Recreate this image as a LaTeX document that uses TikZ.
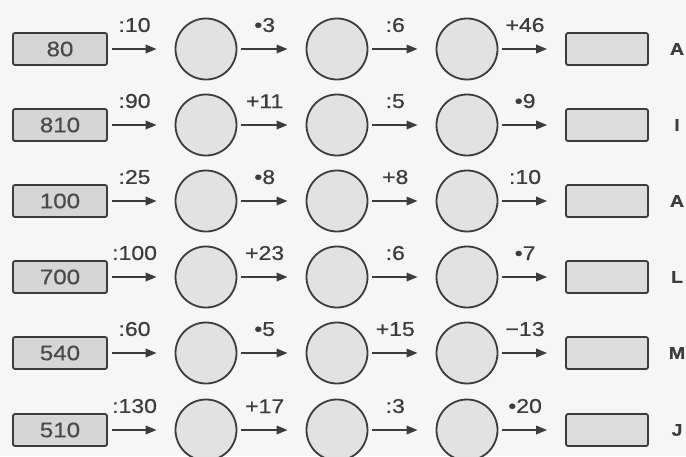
\documentclass[tikz,border=0pt]{standalone}
\usepackage{fontspec}
\setmainfont[FakeStretch=1.15,FakeBold=0.6]{Liberation Sans}
\usetikzlibrary{arrows.meta}
\definecolor{ink}{HTML}{3C3C3C}
\definecolor{numgray}{HTML}{4A4A4A}
\definecolor{boxgray}{HTML}{D6D6D6}
\definecolor{endgray}{HTML}{DCDCDC}
\definecolor{circgray}{HTML}{E2E2E2}
\definecolor{bgcol}{HTML}{F6F6F6}
\begin{document}
\begin{tikzpicture}[x=1pt,y=-1pt,
  startbox/.style={draw=ink, line width=1.8pt, fill=boxgray, rounded corners=2pt,
    minimum width=94pt, minimum height=32pt, inner sep=0pt,
    font=\fontsize{21}{21}\selectfont, text=numgray},
  endbox/.style={draw=ink, line width=1.8pt, fill=endgray, rounded corners=2pt,
    minimum width=82pt, minimum height=32pt, inner sep=0pt},
  ring/.style={circle, draw=ink, line width=1.8pt, fill=circgray,
    minimum size=61pt, inner sep=0pt},
  op/.style={-{Triangle[length=11pt,width=8.5pt]}, draw=ink, line width=1.8pt,
    shorten <=4pt, shorten >=18pt},
  oplabel/.style={font=\fontsize{20}{20}\selectfont, text=ink, anchor=south,
    inner sep=0pt, yshift=16pt, pos=0.4},
  letter/.style={font=\bfseries\fontsize{17}{17}\selectfont, text=ink, inner sep=0pt}]
\fill[bgcol] (0,0) rectangle (686,456);
\useasboundingbox (0,0) rectangle (686,456);
\foreach \r/\y/\n/\a/\b/\c/\d/\L in {
  1/49/80/:10/•3/:6/+46/A,
  2/125/810/:90/+11/:5/•9/I,
  3/201/100/:25/•8/+8/:10/A,
  4/277/700/:100/+23/:6/•7/L,
  5/353/540/:60/•5/+15/−13/M,
  6/430/510/:130/+17/:3/•20/J}{
  \node[startbox] (s\r) at (60,\y) {\n};
  \node[ring] (ca\r) at (206,\y) {};
  \node[ring] (cb\r) at (337,\y) {};
  \node[ring] (cc\r) at (467,\y) {};
  \node[endbox] (e\r) at (607,\y) {};
  \node[letter] (l\r) at (677,\y) {\L};
  \draw[op] (s\r) -- node[oplabel] {\a} (ca\r);
  \draw[op] (ca\r) -- node[oplabel] {\b} (cb\r);
  \draw[op] (cb\r) -- node[oplabel] {\c} (cc\r);
  \draw[op] (cc\r) -- node[oplabel] {\d} (e\r);
}
\end{tikzpicture}
\end{document}
